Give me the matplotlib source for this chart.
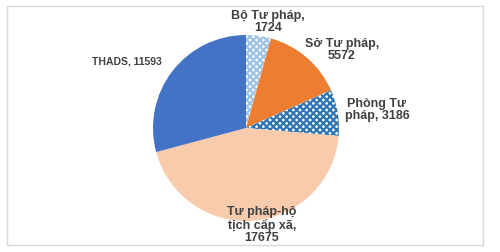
import matplotlib
matplotlib.use('Agg')
import matplotlib.pyplot as plt
from matplotlib.patches import Rectangle

# Data
labels = ['Bộ Tư pháp', 'Sở Tư pháp', 'Phòng Tư pháp', 'Tư pháp-hộ tịch cấp xã', 'THADS']
values = [1724, 5572, 3186, 17675, 11593]
label_texts = ['Bộ Tư pháp,\n1724', 'Sở Tư pháp,\n5572', 'Phòng Tư\npháp, 3186',
               'Tư pháp-hộ\ntịch cấp xã,\n17675', 'THADS, 11593']
colors = ['white', '#ed7d31', 'white', '#f8cbad', '#4472c4']
hatches = ['xxxxx', None, 'xxxxx', None, None]
hatch_colors = ['#9dc3e6', None, '#2e75b6', None, None]

plt.rcParams['font.family'] = ['Liberation Sans', 'DejaVu Sans']
plt.rcParams['hatch.linewidth'] = 1.6

W, H = 500, 252
fig = plt.figure(figsize=(5, 2.52), dpi=100)

# frame around the chart
fig.patches.append(Rectangle((7 / W, 1 - 245 / H), 476 / W, 239 / H, transform=fig.transFigure,
                             fill=False, edgecolor='#d9d9d9', linewidth=1.0))

# pie centre (246,128) px, radius 93 px
cx, cy, r = 246, 128, 93
ax = fig.add_axes([(cx - r) / W, 1 - (cy + r) / H, 2 * r / W, 2 * r / H])
wedges, _ = ax.pie(values, colors=colors, startangle=90, counterclock=False,
                   radius=1.0, wedgeprops=dict(linewidth=0))
for w, h, hc in zip(wedges, hatches, hatch_colors):
    if h:
        w.set_hatch(h)
        w.set_edgecolor(hc)
        w.set_linewidth(0)
ax.set_xlim(-1, 1)
ax.set_ylim(-1, 1)
ax.set_aspect('auto')


def px(x, y):
    return ((x - cx) / r, (cy - y) / r)


label_pos = [(268, 22), (342, 50), (377, 110), (262, 225), (127, 62)]
sizes = [9, 9, 9, 9, 7.5]
zorders = [0, 5, 5, 5, 5]
for txt, (x, y), s, z in zip(label_texts, label_pos, sizes, zorders):
    ax.text(*px(x, y), txt, ha='center', va='center', fontsize=s, fontweight='bold',
            color='#404040', linespacing=1.0, zorder=z, clip_on=False)

fig.savefig('out.png', dpi=100)
